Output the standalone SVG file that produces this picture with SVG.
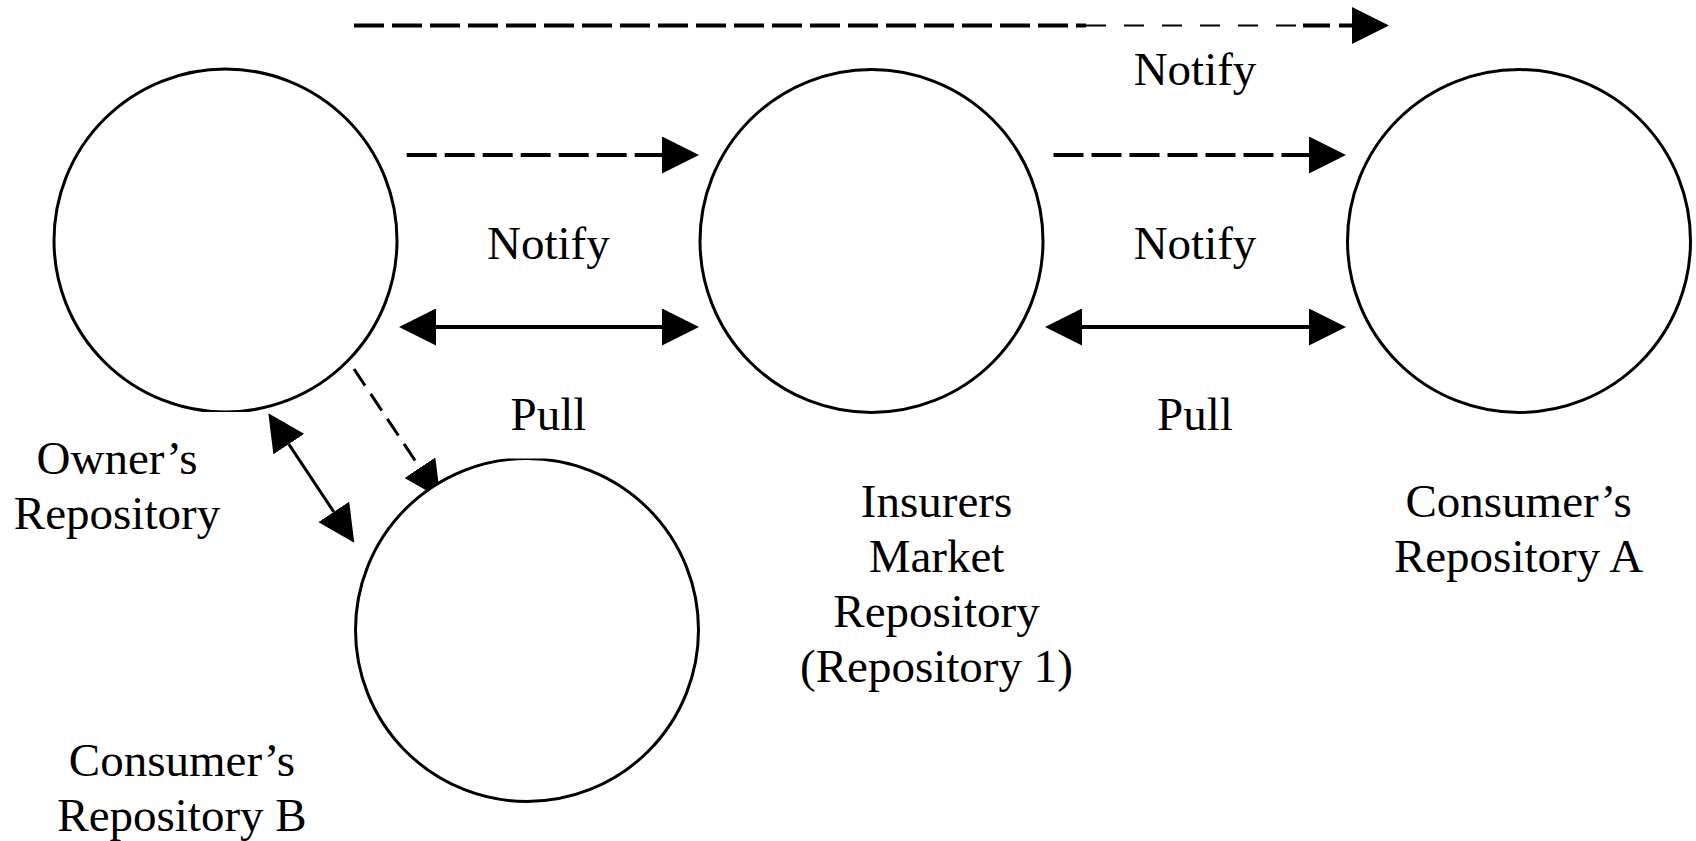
<svg xmlns="http://www.w3.org/2000/svg" width="1696" height="841" viewBox="0 0 1696 841">
  <style>
    .node { fill: #ffffff; stroke: #000000; stroke-width: 3; }
    .lbl { font-family: "Liberation Serif", "Times New Roman", serif; font-size: 47px; fill: #000000; text-anchor: middle; }
    .dash { fill: none; stroke: #000000; stroke-width: 4; stroke-dasharray: 30 8; }
    .thin { fill: none; stroke: #000000; stroke-width: 2; stroke-dasharray: 20 18; }
    .solid { fill: none; stroke: #000000; stroke-width: 4; }
    .diag { fill: none; stroke: #000000; stroke-width: 3; }
    .diagdash { fill: none; stroke: #000000; stroke-width: 3; stroke-dasharray: 20 10; }
  </style>
  <defs>
    <marker id="head" markerUnits="userSpaceOnUse" viewBox="0 0 37 37" markerWidth="37" markerHeight="37" refX="0" refY="18.5" orient="auto-start-reverse">
      <path d="M0,0 L37,18.5 L0,37 Z" fill="#000000"/>
    </marker>
    <clipPath id="clipOwner"><rect x="0" y="0" width="1696" height="412"/></clipPath>
    <clipPath id="clipB"><rect x="0" y="458.5" width="1696" height="400"/></clipPath>
  </defs>
  <rect x="0" y="0" width="1696" height="841" fill="#ffffff"/>

  <g id="connectors">
    <path class="dash" d="M354,25.5 H1086"/>
    <path class="thin" d="M1086,25.5 H1303"/>
    <path class="dash" style="stroke-dasharray:27 9" d="M1303,25.5 H1352" marker-end="url(#head)"/>
    <path class="dash" d="M406.7,155 H662" marker-end="url(#head)"/>
    <path class="dash" d="M1053.5,155 H1309" marker-end="url(#head)"/>
    <path class="solid" d="M436,327 H662" marker-start="url(#head)" marker-end="url(#head)"/>
    <path class="solid" d="M1082,327 H1309" marker-start="url(#head)" marker-end="url(#head)"/>
    <path class="diag" d="M288.8,444.1 L333.8,511.9" marker-start="url(#head)" marker-end="url(#head)"/>
    <path class="diagdash" d="M354,369 L419.9,467.7" marker-end="url(#head)"/>
  </g>

  <g id="owner">
    <circle class="node" cx="225.5" cy="240.5" r="171.5" clip-path="url(#clipOwner)"/>
    <text class="lbl" x="117" y="474">Owner’s</text>
    <text class="lbl" x="117" y="529">Repository</text>
  </g>
  <g id="insurers">
    <circle class="node" cx="871.5" cy="241" r="171.5"/>
    <text class="lbl" x="936.5" y="517">Insurers</text>
    <text class="lbl" x="936.5" y="572">Market</text>
    <text class="lbl" x="936.5" y="627">Repository</text>
    <text class="lbl" x="936.5" y="682">(Repository 1)</text>
  </g>
  <g id="consumerA">
    <circle class="node" cx="1519" cy="241" r="171.5"/>
    <text class="lbl" x="1518.6" y="517">Consumer’s</text>
    <text class="lbl" x="1518.6" y="572">Repository A</text>
  </g>
  <g id="consumerB">
    <circle class="node" cx="527" cy="630" r="171.5" clip-path="url(#clipB)"/>
    <text class="lbl" x="182" y="776">Consumer’s</text>
    <text class="lbl" x="182" y="831">Repository B</text>
  </g>

  <g id="labels">
    <text class="lbl" x="548.4" y="259">Notify</text>
    <text class="lbl" x="1195" y="259">Notify</text>
    <text class="lbl" x="1195" y="85">Notify</text>
    <text class="lbl" x="548.4" y="430">Pull</text>
    <text class="lbl" x="1195" y="430">Pull</text>
  </g>
</svg>
